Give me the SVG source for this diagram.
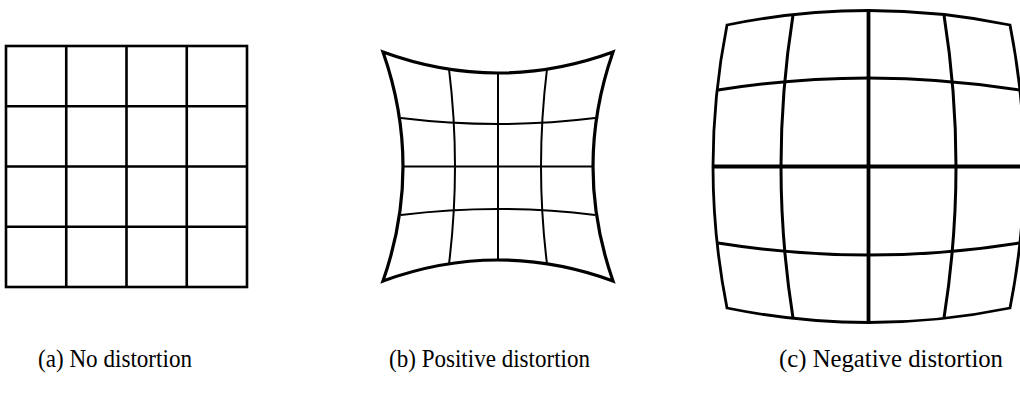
<svg xmlns="http://www.w3.org/2000/svg" width="1020" height="398" viewBox="0 0 1020 398">
<style>
.g { fill: none; stroke: #000; stroke-linecap: butt; stroke-linejoin: miter; }
.a { stroke-width: 2.6; }
.bo { stroke-width: 3.2; }
.bi { stroke-width: 2; }
.co { stroke-width: 2.8; }
.ci { stroke-width: 3; }
.cc { stroke-width: 3.8; }
.lbl { font-family: "Liberation Serif", "Times New Roman", serif; font-size: 24.5px; fill: #000; }
</style>
<rect width="1020" height="398" fill="#fff"/>
<g id="grid-none">
  <rect class="g a" x="6" y="46" width="241" height="241"/>
  <path class="g a" d="M66.25 46V287M126.5 46V287M186.75 46V287M6 106.25H247M6 166.5H247M6 226.75H247"/>
</g>
<g id="grid-positive">
  <path class="g bi" d="M449 69Q461 166.5 449 264M498 73V260M547 69Q535 166.5 547 264"/>
  <path class="g bi" d="M401 118Q498 130 595 118M403 166.5H593M401 215Q498 203 595 215"/>
  <path class="g bo" d="M383 52Q498 94 613 52Q573 166.5 613 281Q498 239 383 281Q423 166.5 383 52Z"/>
</g>
<g id="grid-negative">
  <path class="g ci" d="M793 15Q769 166.5 793 318M944 15Q968 166.5 944 318"/>
  <path class="g ci" d="M718 90Q868.5 66 1019 90M718 243Q868.5 267 1019 243"/>
  <path class="g cc" d="M868.5 10.5V322.5M713 166.5H1024"/>
  <path class="g co" d="M727 25Q868.5 -4 1010 25Q1038 166.5 1010 308Q868.5 337 727 308Q699 166.5 727 25Z"/>
</g>
<g id="labels">
  <text class="lbl" x="38" y="367" textLength="154" lengthAdjust="spacingAndGlyphs">(a) No distortion</text>
  <text class="lbl" x="389" y="367" textLength="201" lengthAdjust="spacingAndGlyphs">(b) Positive distortion</text>
  <text class="lbl" x="779" y="367" textLength="224" lengthAdjust="spacingAndGlyphs">(c) Negative distortion</text>
</g>
</svg>
